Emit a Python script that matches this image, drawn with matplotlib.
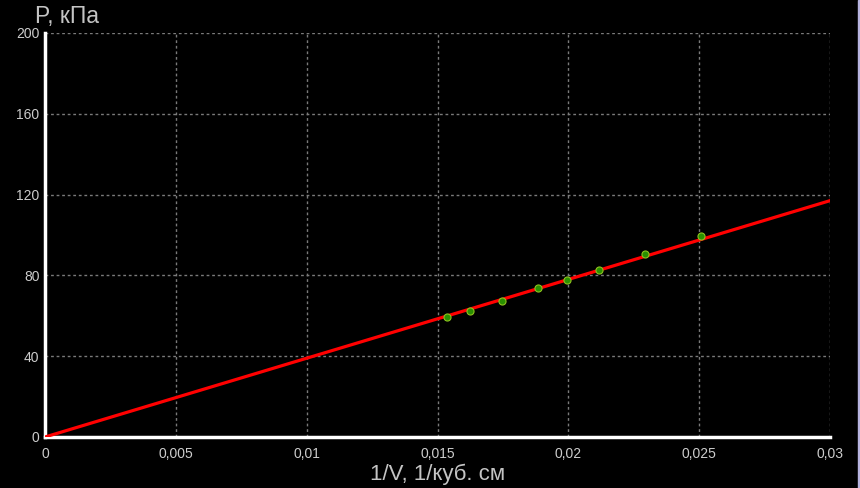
import numpy as np
import matplotlib
matplotlib.use('Agg')
import matplotlib.pyplot as plt
from matplotlib.ticker import FuncFormatter, MultipleLocator
from matplotlib.patches import Rectangle

# --- Данные: обратный объём и давление ---
inv_v = [0.01536, 0.01624, 0.01747, 0.01884, 0.01995, 0.02117, 0.02293, 0.02507]
p_kpa = [59.4, 62.4, 67.3, 73.8, 77.7, 82.7, 90.6, 99.5]

# коэффициент прямой P = k * (1/V), проходящей через начало координат
k = 3900.0
x_max = 0.03
y_max = 200

plt.rcParams['font.family'] = ['Liberation Sans', 'DejaVu Sans']

fig = plt.figure(figsize=(8.6, 4.88), dpi=100, facecolor='black')
ax = fig.add_axes([45 / 860, 51 / 488, 785 / 860, 404 / 488])
ax.set_facecolor('black')

x_line = np.linspace(0, x_max, 100)
ax.plot(x_line, k * x_line, color='#ff0000', linewidth=2.3, zorder=3)
ax.scatter(inv_v, p_kpa, s=26, color='#2a9000', edgecolors='#8ec21e',
           linewidths=0.8, zorder=4)

ax.set_xlim(0, x_max)
ax.set_ylim(0, y_max)
ax.xaxis.set_major_locator(MultipleLocator(0.005))
ax.yaxis.set_major_locator(MultipleLocator(40))
fmt = FuncFormatter(lambda v, pos: f"{v:g}".replace('.', ','))
ax.xaxis.set_major_formatter(fmt)
ax.yaxis.set_major_formatter(FuncFormatter(lambda v, pos: f"{v:g}"))

ax.grid(True, color='#7a7a7a', linestyle=(0, (2, 2)), linewidth=1, zorder=1)
ax.set_axisbelow(True)
ax.tick_params(colors='#cccccc', labelsize=10, length=0, pad=7)
ax.tick_params(axis='y', pad=4)

for side in ['top', 'right']:
    ax.spines[side].set_visible(False)
for side in ['left', 'bottom']:
    ax.spines[side].set_color('white')
    ax.spines[side].set_linewidth(2.5)
    ax.spines[side].set_zorder(2)

ax.set_xlabel('1/V, 1/куб. см', color='#c4c4c4', fontsize=16, labelpad=2)
fig.text(35 / 860, 1 - 17 / 488, 'P, кПа', color='#c4c4c4', fontsize=16.5,
         ha='left', va='center')

# тонкая сиреневая рамка справа
fig.patches.append(Rectangle((858 / 860, 0), 2 / 860, 1, transform=fig.transFigure,
                             color='#b8b4e0', zorder=0))

fig.savefig('out.png', dpi=100, facecolor='black')
